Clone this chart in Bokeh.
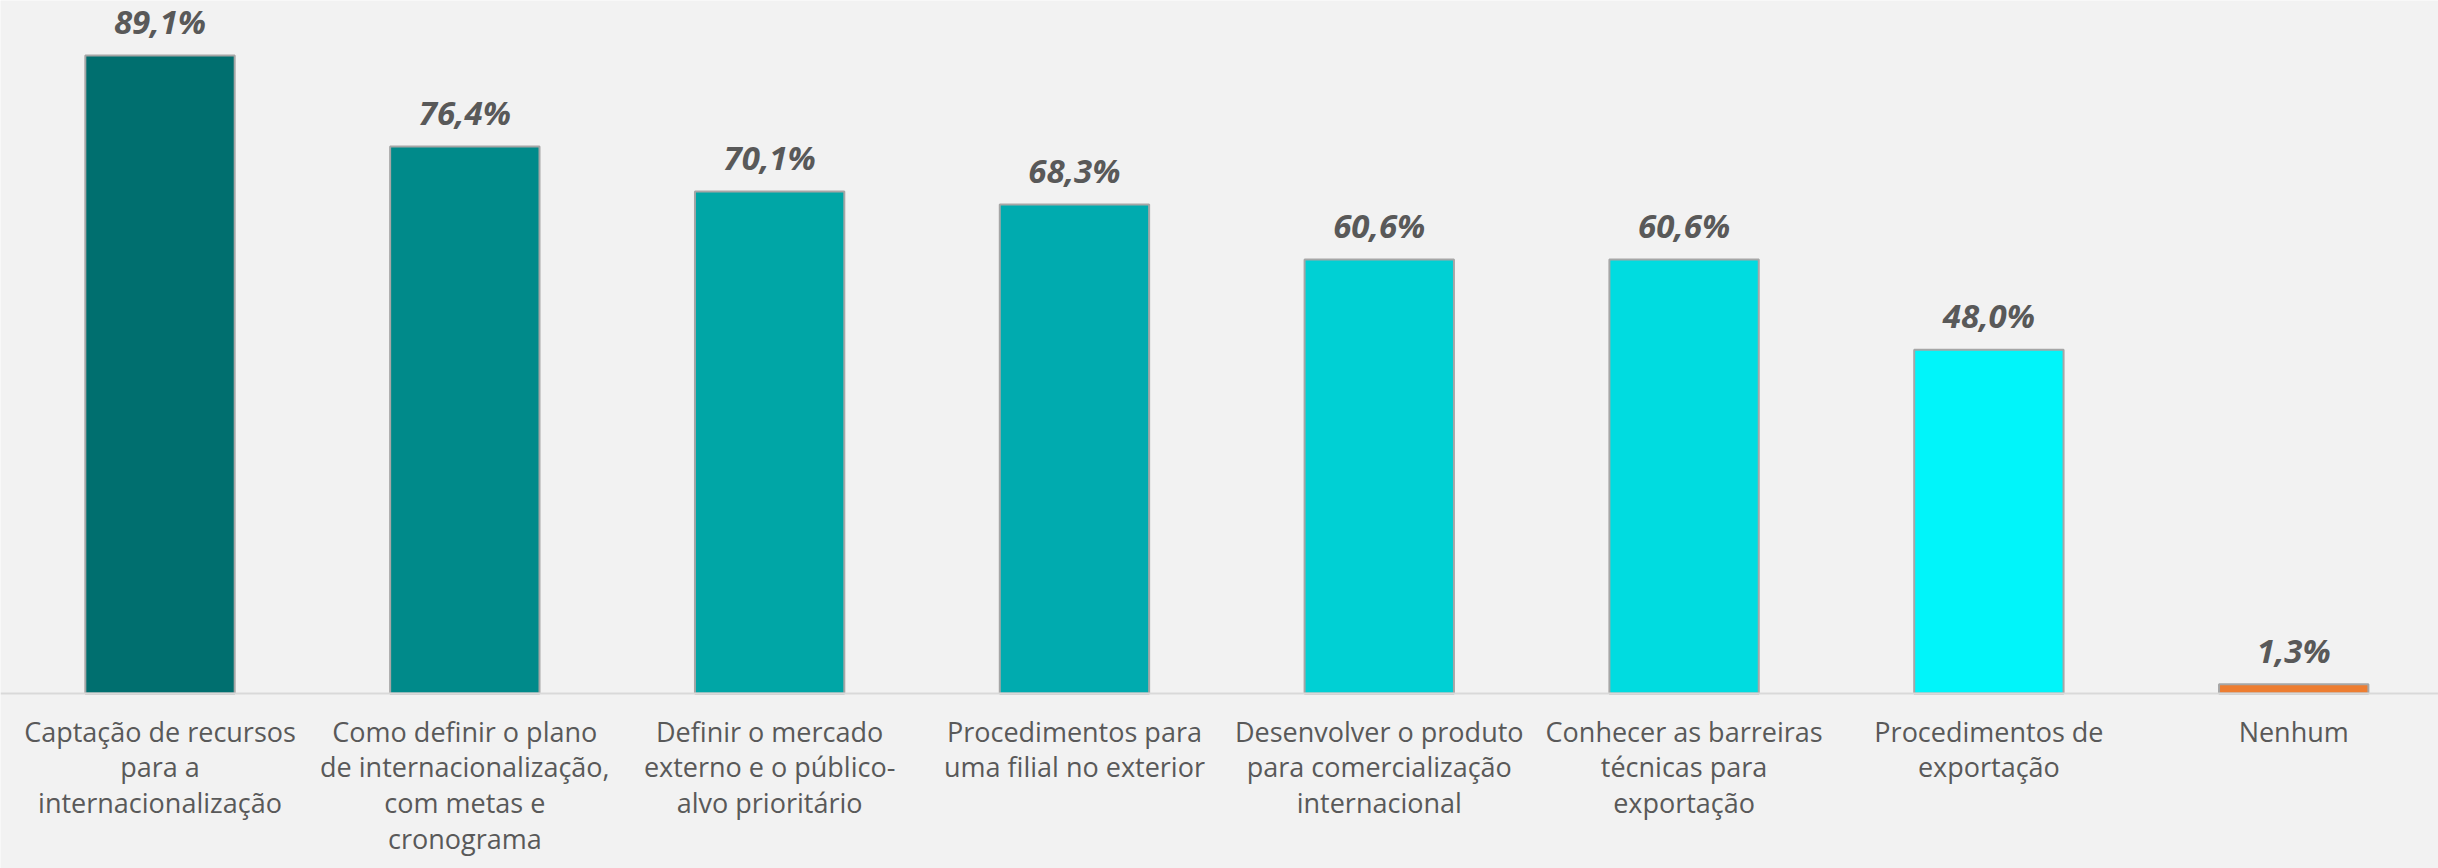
from bokeh.plotting import figure
from bokeh.models import ColumnDataSource, Range1d, Span
from bokeh.core.properties import value
from bokeh.embed import file_html
from bokeh.resources import INLINE

categories = [
    "Captação de recursos\npara a\ninternacionalização",
    "Como definir o plano\nde internacionalização,\ncom metas e\ncronograma",
    "Definir o mercado\nexterno e o público-\nalvo prioritário",
    "Procedimentos para\numa filial no exterior",
    "Desenvolver o produto\npara comercialização\ninternacional",
    "Conhecer as barreiras\ntécnicas para\nexportação",
    "Procedimentos de\nexportação",
    "Nenhum",
]
values = [89.1, 76.4, 70.1, 68.3, 60.6, 60.6, 48.0, 1.3]
colors = ["#006F6F", "#008A8A", "#00A6A6", "#00ABAF", "#00D0D4", "#00DCE0", "#00F5FA", "#ED7D31"]
value_labels = [f"{v:.1f}".replace(".", ",") + "%" for v in values]
positions = list(range(len(categories)))

src = ColumnDataSource(dict(x=positions, cat=categories, val=values, col=colors,
                            lab=value_labels, zero=[0] * len(values)))

W, H = 2438, 868
p = figure(x_range=Range1d(-0.5233, 7.475),
           y_range=Range1d(-24.44, 96.79),
           width=W, height=H, output_backend="svg", toolbar_location=None,
           min_border_left=0, min_border_right=0, min_border_top=0, min_border_bottom=0)
p.background_fill_color = "#F2F2F2"
p.border_fill_color = "#F2F2F2"
p.outline_line_color = None
p.xgrid.visible = False
p.ygrid.visible = False
p.xaxis.visible = False
p.yaxis.visible = False

p.add_layout(Span(location=0, dimension="width", line_color="#D9D9D9", line_width=2))

p.vbar(x="x", top="val", bottom=0, width=0.49, source=src,
       fill_color="col", line_color="#A6A6A6", line_width=2)

p.text(x="x", y="val", text="lab", source=src,
       text_font=value("Open Sans"), text_font_style="bold italic",
       text_font_size="33px", text_color="#595959",
       text_align="center", text_baseline="alphabetic", y_offset=-34)

p.text(x="x", y="zero", text="cat", source=src,
       text_font=value("Open Sans"), text_font_size="27px", text_color="#595959",
       text_align="center", text_baseline="top", y_offset=19, text_line_height=0.97)

open("out.html", "w").write(file_html(p, INLINE))
